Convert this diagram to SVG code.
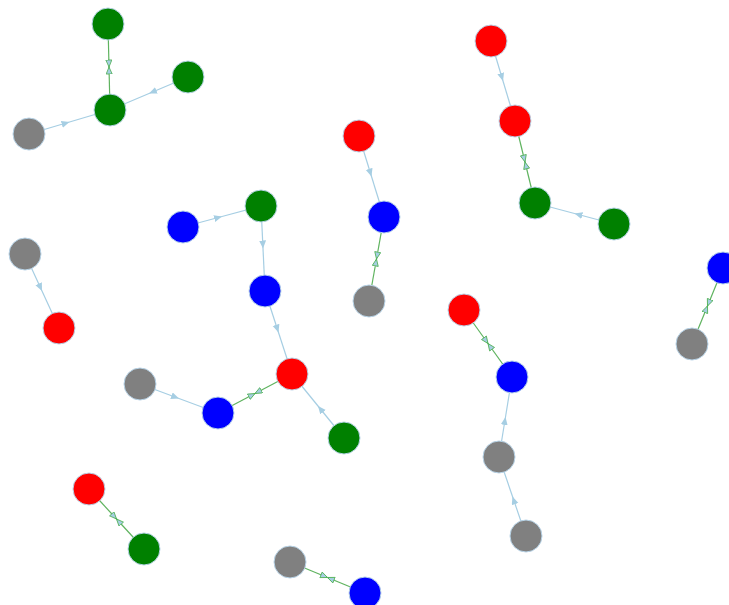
<svg xmlns="http://www.w3.org/2000/svg" width="729" height="605" viewBox="0 0 729 605">
<defs>
<style>
.n{stroke:#b8d4e8;stroke-width:1}
.r{fill:#ff0000}.g{fill:#008000}.b{fill:#0000ff}.k{fill:#808080}
.e{fill:none;stroke:#a6cee3;stroke-width:1.2;marker-mid:url(#a)}
.d{fill:none;stroke:#5fb35f;stroke-width:1.2;marker-end:url(#h)}
</style>
<marker id="a" markerUnits="userSpaceOnUse" markerWidth="10" markerHeight="8" refX="8" refY="3.5" orient="auto" viewBox="0 0 10 8">
<path d="M0,0 L8,3.5 L0,7 z" fill="#a6cee3"/>
</marker>
<marker id="h" markerUnits="userSpaceOnUse" markerWidth="10" markerHeight="8" refX="7.5" refY="3.5" orient="auto" viewBox="0 0 10 8">
<path d="M0.5,0.5 L7.5,3.5 L0.5,6.5 z" fill="#a6cee3" stroke="#4caf50" stroke-width="0.8"/>
</marker>
</defs>
<rect width="729" height="605" fill="#ffffff"/>
<g id="connectors">
<!-- light blue directed edges: path from source via midpoint to target -->
<path class="e" d="M29,134 L69.5,122 L110,110"/>
<path class="e" d="M188,77 L149,93.5 L110,110"/>
<path class="e" d="M491,41 L503,81 L515,121"/>
<path class="e" d="M614,224 L574.5,213.5 L535,203"/>
<path class="e" d="M359,136 L371.5,176.5 L384,217"/>
<path class="e" d="M183,227 L222,216.5 L261,206"/>
<path class="e" d="M261,206 L263,248.5 L265,291"/>
<path class="e" d="M265,291 L278.5,332.5 L292,374"/>
<path class="e" d="M140,384 L179,398.5 L218,413"/>
<path class="e" d="M344,438 L318,406 L292,374"/>
<path class="e" d="M25,254 L42,291 L59,328"/>
<path class="e" d="M499,457 L505.5,417 L512,377"/>
<path class="e" d="M526,536 L512.5,496.5 L499,457"/>
<!-- green bidirectional edges: each end to midpoint -->
<path class="d" d="M108,24 L109,67"/><path class="d" d="M110,110 L109,67"/>
<path class="d" d="M515,121 L525,162"/><path class="d" d="M535,203 L525,162"/>
<path class="d" d="M384,217 L376.5,259"/><path class="d" d="M369,301 L376.5,259"/>
<path class="d" d="M218,413 L255,393.5"/><path class="d" d="M292,374 L255,393.5"/>
<path class="d" d="M464,310 L488,343.5"/><path class="d" d="M512,377 L488,343.5"/>
<path class="d" d="M723,268 L707.5,306"/><path class="d" d="M692,344 L707.5,306"/>
<path class="d" d="M89,489 L116.5,519"/><path class="d" d="M144,549 L116.5,519"/>
<path class="d" d="M290,562 L327.5,577.5"/><path class="d" d="M365,593 L327.5,577.5"/>
</g>
<g id="n1"><circle class="n g" cx="108" cy="24" r="16"/></g>
<g id="n2"><circle class="n g" cx="110" cy="110" r="16"/></g>
<g id="n3"><circle class="n g" cx="188" cy="77" r="16"/></g>
<g id="n4"><circle class="n k" cx="29" cy="134" r="16"/></g>
<g id="n5"><circle class="n r" cx="491" cy="41" r="16"/></g>
<g id="n6"><circle class="n r" cx="515" cy="121" r="16"/></g>
<g id="n7"><circle class="n g" cx="535" cy="203" r="16"/></g>
<g id="n8"><circle class="n g" cx="614" cy="224" r="16"/></g>
<g id="n9"><circle class="n r" cx="359" cy="136" r="16"/></g>
<g id="n10"><circle class="n b" cx="384" cy="217" r="16"/></g>
<g id="n11"><circle class="n k" cx="369" cy="301" r="16"/></g>
<g id="n12"><circle class="n b" cx="183" cy="227" r="16"/></g>
<g id="n13"><circle class="n g" cx="261" cy="206" r="16"/></g>
<g id="n14"><circle class="n b" cx="265" cy="291" r="16"/></g>
<g id="n15"><circle class="n r" cx="292" cy="374" r="16"/></g>
<g id="n16"><circle class="n b" cx="218" cy="413" r="16"/></g>
<g id="n17"><circle class="n k" cx="140" cy="384" r="16"/></g>
<g id="n18"><circle class="n g" cx="344" cy="438" r="16"/></g>
<g id="n19"><circle class="n k" cx="25" cy="254" r="16"/></g>
<g id="n20"><circle class="n r" cx="59" cy="328" r="16"/></g>
<g id="n21"><circle class="n r" cx="464" cy="310" r="16"/></g>
<g id="n22"><circle class="n b" cx="512" cy="377" r="16"/></g>
<g id="n23"><circle class="n k" cx="499" cy="457" r="16"/></g>
<g id="n24"><circle class="n k" cx="526" cy="536" r="16"/></g>
<g id="n25"><circle class="n b" cx="723" cy="268" r="16"/></g>
<g id="n26"><circle class="n k" cx="692" cy="344" r="16"/></g>
<g id="n27"><circle class="n r" cx="89" cy="489" r="16"/></g>
<g id="n28"><circle class="n g" cx="144" cy="549" r="16"/></g>
<g id="n29"><circle class="n k" cx="290" cy="562" r="16"/></g>
<g id="n30"><circle class="n b" cx="365" cy="593" r="16"/></g>
</svg>
